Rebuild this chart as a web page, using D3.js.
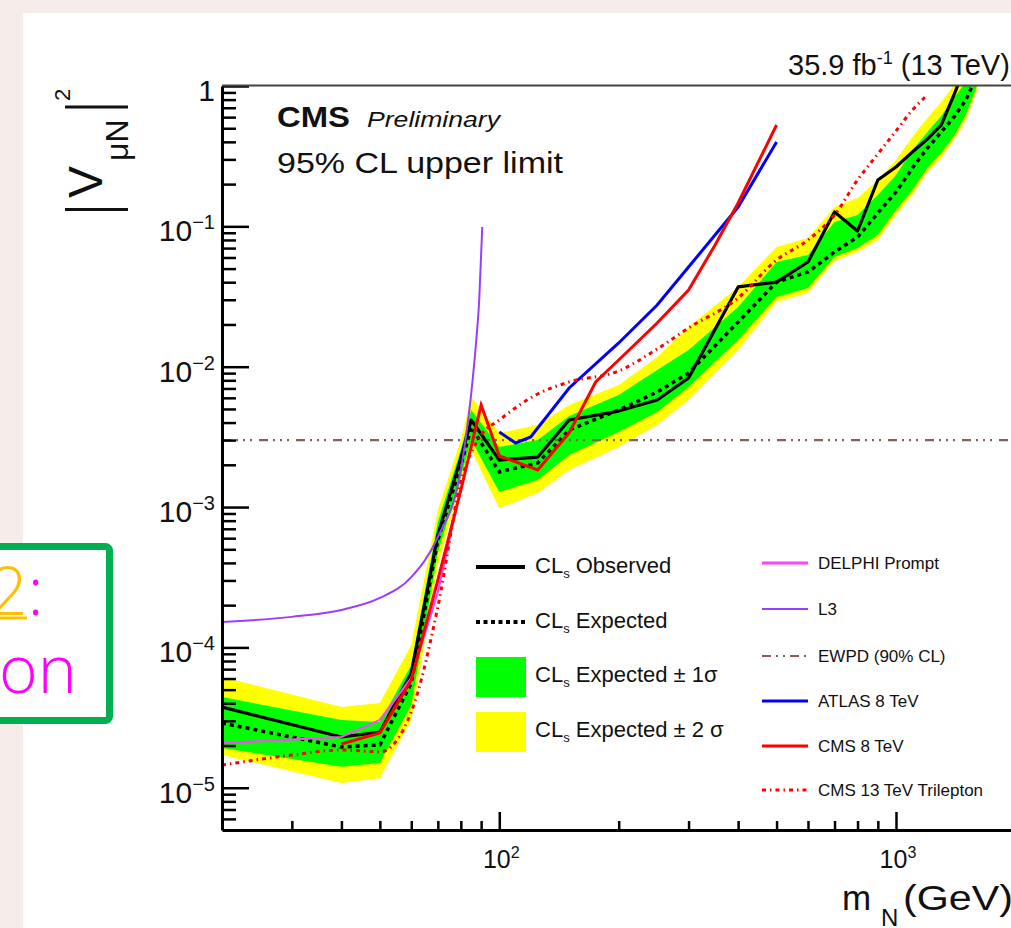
<!DOCTYPE html>
<html><head><meta charset="utf-8">
<script src="https://cdn.jsdelivr.net/npm/d3@7"></script>
<style>
html,body{margin:0;padding:0;background:#f6ecea;overflow:hidden;}
svg{display:block;}
text{font-family:"Liberation Sans",Arial,Helvetica,sans-serif;fill:#111;}
</style></head><body>
<svg id="c" width="1011" height="928"></svg>
<script>
// ---------------- data ----------------
const massCMS = [20,40,50,60,70,80,85,100,125,150,200,250,300,400,500,600,700,800,900,1000,1100,1200,1300,1400,1500,1600];
const observed = [3.76e-5,2.30e-5,2.49e-5,6.57e-5,6.32e-4,2.24e-3,4.17e-3,2.16e-3,2.27e-3,4.17e-3,4.83e-3,5.79e-3,8.31e-3,3.70e-2,4.01e-2,5.57e-2,0.1265,0.0927,0.214,0.265,0.339,0.419,0.527,0.863,1.41,2.0];
const expected = [2.89e-5,1.95e-5,2.02e-5,5.57e-5,5.82e-4,1.99e-3,3.72e-3,1.78e-3,2.06e-3,3.54e-3,4.91e-3,6.60e-3,9.02e-3,2.08e-2,4.01e-2,4.73e-2,6.57e-2,8.39e-2,0.1245,0.1757,0.2604,0.3616,0.4702,0.6014,0.7948,1.198];
const exp1Up = [4.43e-5,3.04e-5,2.94e-5,7.49e-5,7.82e-4,2.55e-3,4.91e-3,2.68e-3,3.00e-3,4.45e-3,6.29e-3,9.47e-3,1.315e-2,2.66e-2,5.57e-2,6.25e-2,0.1074,0.1205,0.1673,0.2322,0.3499,0.4702,0.6113,0.8213,1.068,1.411];
const exp1Down = [1.92e-5,1.41e-5,1.50e-5,3.89e-5,4.71e-4,1.66e-3,3.00e-3,1.28e-3,1.56e-3,2.35e-3,3.42e-3,4.75e-3,7.17e-3,1.55e-2,3.14e-2,3.64e-2,6.05e-2,7.01e-2,8.68e-2,0.1308,0.1816,0.2604,0.3332,0.4403,0.6214,1.0];
const exp2Up = [6.15e-5,3.76e-5,4.02e-5,1.04e-4,9.53e-4,3.00e-3,6.08e-3,3.37e-3,3.84e-3,5.33e-3,7.41e-3,1.172e-2,1.92e-2,3.70e-2,7.13e-2,8.26e-2,0.1373,0.1592,0.2139,0.2971,0.4331,0.5916,0.7691,1.016,1.30,1.663];
const exp2Down = [1.71e-5,1.08e-5,1.17e-5,3.04e-5,3.87e-4,1.46e-3,2.55e-3,9.8e-4,1.26e-3,1.84e-3,2.68e-3,3.84e-3,5.79e-3,1.315e-2,2.89e-2,3.35e-2,5.66e-2,6.57e-2,7.99e-2,0.1205,0.1673,0.2438,0.3069,0.4124,0.5727,0.9365];

const massDELPHI = [20,40,50,60,70,80];
const limDELPHI = [2.08e-5,2.30e-5,3.04e-5,6.05e-5,2.48e-4,1.37e-3];
const massL3 = [20,30,40,50,60,70,80,85,87.5,89,90.6];
const limL3 = [1.52e-4,1.65e-4,1.85e-4,2.25e-4,3.17e-4,6.12e-4,1.84e-3,6.5e-3,1.55e-2,2.99e-2,0.099];
const massEWPD = [20,2000];
const limEWPD = [3.0e-3,3.0e-3];
const massATLAS = [100,110,120,150,200,250,300,400,500];
const limATLAS = [3.42e-3,2.86e-3,3.16e-3,7.05e-3,1.476e-2,2.75e-2,5.13e-2,0.1373,0.399];
const massCMS8 = [40,50,60,70,80,90,100,125,150,175,200,250,300,350,400,500];
const limCMS8 = [2.05e-5,2.46e-5,5.86e-5,3.02e-4,1.32e-3,5.33e-3,2.31e-3,1.84e-3,3.37e-3,7.78e-3,1.116e-2,2.048e-2,3.52e-2,7.37e-2,0.1467,0.5275];
const massTri = [20,30,40,50,60,70,80,90,100,125,150,200,250,300,400,500,600,700,800,900,1000,1100,1200];
const limTri = [1.45e-5,1.71e-5,1.86e-5,1.80e-5,3.47e-5,1.94e-4,1.51e-3,3.26e-3,4.17e-3,6.39e-3,7.78e-3,9.32e-3,1.337e-2,1.887e-2,3.09e-2,5.76e-2,0.0799,0.1205,0.2139,0.3278,0.4779,0.6745,0.8627];

const xMajorTicks = [100,1000];
const xMajorExp = ["2","3"];
const xMinorTicks = [30,40,50,60,70,80,90,200,300,400,500,600,700,800,900];
const yMajorTicks = [1,1e-1,1e-2,1e-3,1e-4,1e-5];
const yMajorExp = ["","−1","−2","−3","−4","−5"];
const yMinorTicks = [6e-6,7e-6,8e-6,9e-6,2e-5,3e-5,4e-5,5e-5,6e-5,7e-5,8e-5,9e-5,2e-4,3e-4,4e-4,5e-4,6e-4,7e-4,8e-4,9e-4,2e-3,3e-3,4e-3,5e-3,6e-3,7e-3,8e-3,9e-3,2e-2,3e-2,4e-2,5e-2,6e-2,7e-2,8e-2,9e-2,0.2,0.3,0.4,0.5,0.6,0.7,0.8,0.9];

const legendLeft = ["Observed","Expected","Expected ± 1σ","Expected ± 2 σ"];
const legendRight = ["DELPHI Prompt","L3","EWPD (90% CL)","ATLAS 8 TeV","CMS 8 TeV","CMS 13 TeV Trilepton"];

// ---------------- drawing ----------------
const svg = d3.select("#c");
svg.append("rect").attr("x",23).attr("y",13).attr("width",1000).attr("height",930).attr("fill","#fff");

const x = d3.scaleLog().domain([20,2000]).range([222,1015.4]);
const y = d3.scaleLog().domain([5e-6,1]).range([830,86]);

svg.append("clipPath").attr("id","clip").append("rect")
  .attr("x",222).attr("y",86).attr("width",793.4).attr("height",744);
const plot = svg.append("g").attr("clip-path","url(#clip)");

const cms = massCMS.map((m,i)=>({m,obs:observed[i],exp:expected[i],u1:exp1Up[i],d1:exp1Down[i],u2:exp2Up[i],d2:exp2Down[i]}));
const area = (lo,hi)=>d3.area().x(d=>x(d.m)).y0(d=>y(d[lo])).y1(d=>y(d[hi]));
plot.append("path").datum(cms).attr("d",area("d2","u2")).attr("fill","#ffff00");
plot.append("path").datum(cms).attr("d",area("d1","u1")).attr("fill","#00ff00");

function series(ms, vs){ return ms.map((m,i)=>({m,v:vs[i]})); }
const line = d3.line().x(d=>x(d.m)).y(d=>y(d.v));
const smooth = d3.line().x(d=>x(d.m)).y(d=>y(d.v)).curve(d3.curveMonotoneX);

plot.append("path").datum(series(massEWPD,limEWPD)).attr("d",line)
  .attr("fill","none").attr("stroke","#8a5c5c").attr("stroke-width",2.2).attr("stroke-dasharray","9,5,2,5,2,5,2,7");
plot.append("path").datum(series(massCMS,expected)).attr("d",line)
  .attr("fill","none").attr("stroke","#000").attr("stroke-width",3.5).attr("stroke-dasharray","4,4");
plot.append("path").datum(series(massCMS,observed)).attr("d",line)
  .attr("fill","none").attr("stroke","#000").attr("stroke-width",3.2).attr("stroke-linejoin","round");
plot.append("path").datum(series(massDELPHI,limDELPHI)).attr("d",line)
  .attr("fill","none").attr("stroke","#ff44ff").attr("stroke-width",2.2);
plot.append("path").datum(series(massL3,limL3)).attr("d",smooth)
  .attr("fill","none").attr("stroke","#9b3dff").attr("stroke-width",2);
plot.append("path").datum(series(massATLAS,limATLAS)).attr("d",line)
  .attr("fill","none").attr("stroke","#0000ff").attr("stroke-width",3);
plot.append("path").datum(series(massCMS8,limCMS8)).attr("d",line)
  .attr("fill","none").attr("stroke","#ff0000").attr("stroke-width",3);
plot.append("path").datum(series(massTri,limTri)).attr("d",smooth)
  .attr("fill","none").attr("stroke","#ff0000").attr("stroke-width",3).attr("stroke-dasharray","4,4,1.5,4");

// ---------------- axes ----------------
const gxMaj = svg.append("g").attr("transform","translate(0,830)")
  .call(d3.axisBottom(x).tickValues(xMajorTicks).tickSize(-18).tickSizeOuter(0).tickFormat(""));
const gxMin = svg.append("g").attr("transform","translate(0,830)")
  .call(d3.axisBottom(x).tickValues(xMinorTicks).tickSize(-9).tickSizeOuter(0).tickFormat(""));
gxMin.select(".domain").remove();
const gyMaj = svg.append("g").attr("transform","translate(222,0)")
  .call(d3.axisLeft(y).tickValues(yMajorTicks).tickSize(-27).tickSizeOuter(0).tickFormat(""));
const gyMin = svg.append("g").attr("transform","translate(222,0)")
  .call(d3.axisLeft(y).tickValues(yMinorTicks).tickSize(-14).tickSizeOuter(0).tickFormat(""));
gyMin.select(".domain").remove();
[gxMaj,gxMin,gyMaj,gyMin].forEach(g=>{
  g.selectAll(".tick line").attr("stroke","#000").attr("stroke-width",2.5);
  g.select(".domain").attr("stroke","#000").attr("stroke-width",3);
});
svg.append("line").attr("x1",222).attr("x2",1015).attr("y1",85.5).attr("y2",85.5)
  .attr("stroke","#444").attr("stroke-width",2.2);

// y tick labels
yMajorTicks.forEach((v,i)=>{
  const t = svg.append("text").attr("x",215).attr("y",y(v)+15).attr("text-anchor","end").attr("font-size",30);
  if(yMajorExp[i]===""){ t.text("1"); }
  else { t.append("tspan").text("10"); t.append("tspan").attr("dy",-12).attr("font-size",20).text(yMajorExp[i]); }
});
// x tick labels
xMajorTicks.forEach((v,i)=>{
  const t = svg.append("text").attr("x",x(v)+2).attr("y",868).attr("text-anchor","middle").attr("font-size",25);
  t.append("tspan").text("10"); t.append("tspan").attr("dy",-10).attr("font-size",16).text(xMajorExp[i]);
});

// axis titles
const yl = svg.append("g").attr("transform","translate(102,211) rotate(-90)");
yl.append("line").attr("x1",1.5).attr("x2",1.5).attr("y1",-37).attr("y2",26).attr("stroke","#111").attr("stroke-width",3);
yl.append("line").attr("x1",104).attr("x2",104).attr("y1",-37).attr("y2",26).attr("stroke","#111").attr("stroke-width",3);
yl.append("text").attr("x",13).attr("y",0).attr("font-size",48).text("V");
yl.append("text").attr("x",50).attr("y",26).attr("font-size",32).text("μN");
yl.append("text").attr("x",110).attr("y",-32).attr("font-size",22).text("2");

const xt = svg.append("text").attr("x",842).attr("y",910).attr("font-size",35);
xt.append("tspan").text("m");
xt.append("tspan").attr("x",881).attr("dy",16).attr("font-size",24).text("N");
xt.append("tspan").attr("x",903).attr("dy",-16).attr("textLength",110).attr("lengthAdjust","spacingAndGlyphs").text("(GeV)");

// header texts
const lum = svg.append("text").attr("x",788).attr("y",75).attr("font-size",29);
lum.append("tspan").text("35.9 fb");
lum.append("tspan").attr("dy",-11).attr("font-size",18).text("-1");
lum.append("tspan").attr("dy",11).text(" (13 TeV)");
svg.append("text").attr("x",277).attr("y",127).attr("font-size",30).attr("font-weight","bold")
  .attr("textLength",73).attr("lengthAdjust","spacingAndGlyphs").text("CMS");
svg.append("text").attr("x",367).attr("y",127).attr("font-size",22).attr("font-style","italic")
  .attr("textLength",133).attr("lengthAdjust","spacingAndGlyphs").text("Preliminary");
svg.append("text").attr("x",277).attr("y",173).attr("font-size",29)
  .attr("textLength",286).attr("lengthAdjust","spacingAndGlyphs").text("95% CL upper limit");

// ---------------- legend ----------------
svg.append("line").attr("x1",476).attr("x2",525).attr("y1",567).attr("y2",567).attr("stroke","#000").attr("stroke-width",4);
svg.append("line").attr("x1",476).attr("x2",525).attr("y1",622).attr("y2",622).attr("stroke","#000").attr("stroke-width",4).attr("stroke-dasharray","4,3.5");
svg.append("rect").attr("x",476).attr("y",657).attr("width",50).attr("height",40).attr("fill","#00ff00");
svg.append("rect").attr("x",476).attr("y",712).attr("width",50).attr("height",40).attr("fill","#ffff00");
const leftBase = [573,628,682,737];
legendLeft.forEach((s,i)=>{
  const t = svg.append("text").attr("x",535).attr("y",leftBase[i]).attr("font-size",22);
  t.append("tspan").text("CL");
  t.append("tspan").attr("dy",5).attr("font-size",13).text("s");
  t.append("tspan").attr("dy",-5).text(" "+s);
});
const rightY = [563,609,656,701,746,790];
const rStyle = [
  {c:"#ff44ff",w:3,d:null},{c:"#9b3dff",w:2,d:null},{c:"#8a5c5c",w:2.2,d:"9,5,2,5,2,5"},
  {c:"#0000ff",w:3,d:null},{c:"#ff0000",w:3,d:null},{c:"#ff0000",w:3,d:"4,4,1.5,4"}];
legendRight.forEach((s,i)=>{
  const l = svg.append("line").attr("x1",762).attr("x2",808).attr("y1",rightY[i]).attr("y2",rightY[i])
    .attr("stroke",rStyle[i].c).attr("stroke-width",rStyle[i].w);
  if(rStyle[i].d) l.attr("stroke-dasharray",rStyle[i].d);
  svg.append("text").attr("x",818).attr("y",rightY[i]+6).attr("font-size",17).attr("fill","#222").text(s);
});

// ---------------- slide overlay box ----------------
svg.append("rect").attr("x",-10).attr("y",546.5).attr("width",119.5).attr("height",174).attr("rx",4)
  .attr("fill","#fff").attr("stroke","#00b050").attr("stroke-width",7);
const note = svg.append("text").attr("font-size",66).attr("font-weight",300)
  .style("font-family","'Open Sans',sans-serif");
note.append("tspan").attr("x",-10).attr("y",615).style("fill","#ffc000").text("2");
note.append("tspan").style("fill","#ff00ff").text(":");
note.append("tspan").attr("x",-1).attr("y",693).style("fill","#ff00ff").text("on");
svg.append("line").attr("x1",0).attr("x2",27).attr("y1",618).attr("y2",618).attr("stroke","#ffc000").attr("stroke-width",3);
</script>
</body></html>
